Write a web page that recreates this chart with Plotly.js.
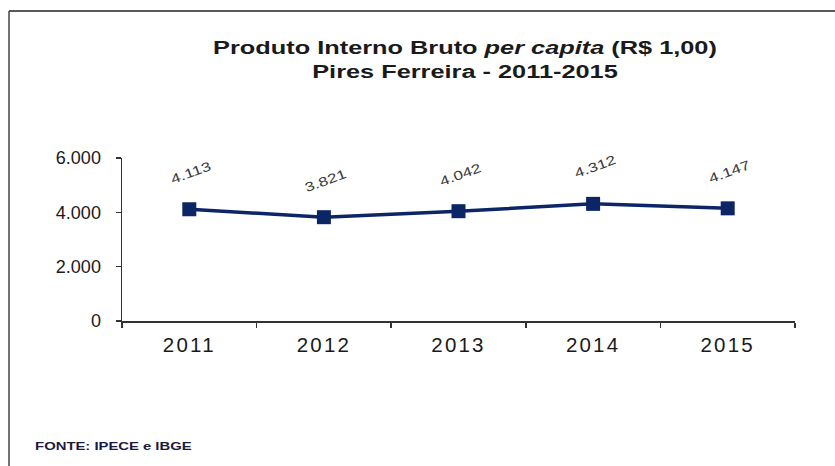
<!DOCTYPE html>
<html>
<head>
<meta charset="utf-8">
<script src="https://cdn.plot.ly/plotly-3.0.1.min.js"></script>
<style>
html,body{margin:0;padding:0;background:#fff;}
#chart{width:835px;height:466px;}
#chart .gtitle{transform-box:fill-box;transform-origin:center;transform:scaleX(1.37);}
#chart .annotation-text{transform-box:fill-box;transform-origin:center;transform:scaleX(1.32);}
#chart .annotation[data-index="5"] .annotation-text{transform-origin:left center;transform:scaleX(1.35);}
#chart .xtick text{letter-spacing:2.2px;}
</style>
</head>
<body>
<div id="chart"></div>
<script>
var years = [2011, 2012, 2013, 2014, 2015];
var yearLabels = ['2011', '2012', '2013', '2014', '2015'];
var pibPerCapita = [4113, 3821, 4042, 4312, 4147];
var yTickVals = [0, 2000, 4000, 6000];
var yTickText = ['0', '2.000', '4.000', '6.000'];

var W = 835, H = 466;
var L = 122, R = 40, T = 158, B = 145;
var pw = W - L - R, ph = H - T - B;
function px2x(px){ return (px - L) / pw; }
function py2y(py){ return (H - B - py) / ph; }

function fmt(v){
  return String(v).replace(/\B(?=(\d{3})+(?!\d))/g, '.');
}

var trace = {
  x: years,
  y: pibPerCapita,
  type: 'scatter',
  mode: 'lines+markers',
  line: {color: '#0b2566', width: 3.5},
  marker: {symbol: 'square', size: 14, color: '#0b2566'},
  hoverinfo: 'none'
};

var annotations = years.map(function(yr, i){
  return {
    x: yr, y: pibPerCapita[i], xref: 'x', yref: 'y',
    text: fmt(pibPerCapita[i]),
    showarrow: false, textangle: -20,
    yshift: 37, xshift: 2,
    font: {family: 'Liberation Sans, Arial, sans-serif', size: 13, color: '#3a3a3a'}
  };
});
annotations.push({
  xref: 'paper', yref: 'paper', x: px2x(33), y: py2y(446),
  xanchor: 'left', yanchor: 'middle', showarrow: false,
  text: '<b>FONTE: IPECE e IBGE</b>',
  font: {family: 'Liberation Sans, Arial, sans-serif', size: 11, color: '#1a1a40'}
});

var layout = {
  width: W, height: H,
  margin: {l: L, r: R, t: T, b: B, pad: 0},
  paper_bgcolor: '#fff', plot_bgcolor: '#fff',
  separators: ',.',
  showlegend: false,
  title: {
    text: '<b>Produto Interno Bruto <i>per capita</i> (R$ 1,00)</b><br><b>Pires Ferreira - 2011-2015</b>',
    x: 465 / W, xref: 'container', xanchor: 'center',
    y: 1 - 54 / H, yref: 'container', yanchor: 'top',
    font: {family: 'Liberation Sans, Arial, sans-serif', size: 18.5, color: '#1a1a1a'}
  },
  xaxis: {
    type: 'linear',
    range: [2010.5, 2015.5],
    tickmode: 'array', tickvals: years, ticktext: yearLabels, tickangle: 0,
    showgrid: false, zeroline: false,
    showline: true, linecolor: '#333', linewidth: 1.5,
    ticks: '', ticklabelstandoff: 5,
    minor: {tick0: 2010.5, dtick: 1, ticks: 'outside', ticklen: 5, tickcolor: '#333', tickwidth: 1.5, showgrid: false},
    tickfont: {family: 'Liberation Sans, Arial, sans-serif', size: 20.5, color: '#1a1a1a'},
    fixedrange: true
  },
  yaxis: {
    range: [0, 6000],
    tickmode: 'array', tickvals: yTickVals, ticktext: yTickText,
    showgrid: false, zeroline: false,
    showline: true, linecolor: '#333', linewidth: 1.5,
    ticks: 'outside', ticklen: 5, tickcolor: '#333', tickwidth: 1.5,
    ticklabelstandoff: 11,
    tickfont: {family: 'Liberation Sans, Arial, sans-serif', size: 18, color: '#1a1a1a'},
    fixedrange: true
  },
  annotations: annotations,
  shapes: [
    {type: 'line', xref: 'paper', yref: 'paper', x0: px2x(9), x1: px2x(836), y0: py2y(11), y1: py2y(11), line: {color: '#222', width: 1.5}},
    {type: 'line', xref: 'paper', yref: 'paper', x0: px2x(9), x1: px2x(9), y0: py2y(11), y1: py2y(467), line: {color: '#444', width: 1.5}}
  ]
};

Plotly.newPlot('chart', [trace], layout, {displayModeBar: false, staticPlot: true});
</script>
</body>
</html>
